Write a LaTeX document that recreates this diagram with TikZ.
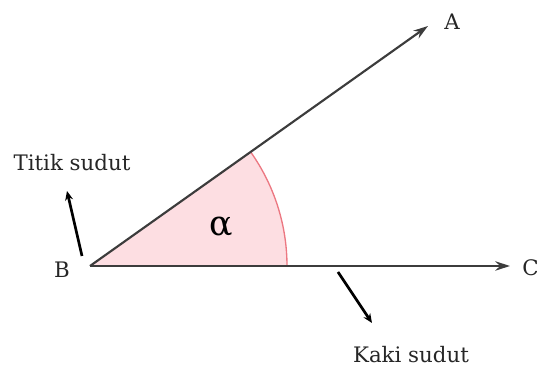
\documentclass[tikz,border=0pt]{standalone}
\usepackage{fontspec}
\setmainfont{DejaVu Serif}
\definecolor{rayGray}{RGB}{60, 60, 60}
\definecolor{arcRed}{RGB}{236, 120, 130}
\definecolor{arcFill}{RGB}{253, 222, 226}
\usepackage{tikz}
\usetikzlibrary{positioning, calc, arrows.meta}

\begin{document}
\begin{tikzpicture}[
    x=0.75pt, y=0.75pt,
    ray/.style={draw=rayGray, line width=1.6pt,
                -{Stealth[length=11pt, width=7pt]}},
    pointer/.style={draw=black, line width=2pt,
                    -{Stealth[length=7pt, width=6pt]}},
    lbl/.style={inner sep=0pt, text=black!85, font=\fontsize{16}{18}\selectfont},
  ]
    \useasboundingbox (0,0) rectangle (537,374);

    % vertex and rays
    \coordinate (B) at (90,108);
    \coordinate (A) at (428,348);
    \coordinate (C) at (510,108);

    % angle sector
    \fill[arcFill] (B) -- ++(197,0) arc[start angle=0, end angle=35.4, radius=197] -- cycle;
    \draw[arcRed, line width=1pt] ($(B)+(197,0)$) arc[start angle=0, end angle=35.4, radius=197];

    \draw[ray] (B) -- (A);
    \draw[ray] (B) -- (C);

    \node[lbl] (LA) at (452,352) {A};
    \node[lbl] (LB) at (62,104) {B};
    \node[lbl, anchor=west] (LC) at (522,106) {C};
    \node[inner sep=0pt, font=\fontsize{26}{28}\selectfont] (ALPHA) at (221,147) {α};

    % labels with pointers
    \node[lbl] (TITIK) at (72,211) {Titik sudut};
    \coordinate (T0) at (82,118);
    \coordinate (T1) at (67,183);
    \draw[pointer] (T0) -- (T1);

    \node[lbl] (KAKI) at (411,19) {Kaki sudut};
    \coordinate (K0) at (338,102);
    \coordinate (K1) at (372,51);
    \draw[pointer] (K0) -- (K1);
  \end{tikzpicture}
\end{document}
